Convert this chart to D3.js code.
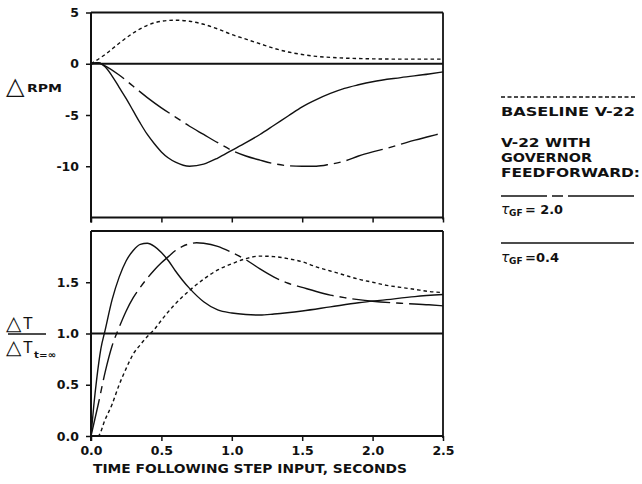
<!DOCTYPE html>
<html>
<head>
<meta charset="utf-8">
<script src="https://cdn.jsdelivr.net/npm/d3@7"></script>
<style>
  html, body { margin: 0; padding: 0; background: #fff; }
  svg { display: block; }
  text { fill: #111; }
</style>
</head>
<body>
<div id="chart"></div>
<script>
// ---------------- data ----------------
// Top panel: delta RPM
const topBaseT  = [0,0.1,0.2,0.3,0.4,0.5,0.6,0.7,0.8,0.9,1.0,1.1,1.2,1.3,1.4,1.5,1.6,1.7,1.8,2.0,2.2,2.5];
const topBaseV  = [0,0.9,2.0,3.0,3.75,4.15,4.25,4.15,3.85,3.4,2.85,2.4,1.95,1.5,1.15,0.9,0.72,0.62,0.55,0.48,0.45,0.45];
const topTau20T = [0,0.05,0.1,0.2,0.3,0.4,0.5,0.6,0.7,0.8,0.9,1.0,1.1,1.2,1.3,1.4,1.5,1.6,1.7,1.8,1.9,2.0,2.1,2.2,2.3,2.4,2.5];
const topTau20V = [0,0.1,-0.2,-1.1,-2.2,-3.3,-4.3,-5.2,-6.1,-6.9,-7.7,-8.45,-9.0,-9.4,-9.75,-9.95,-10.0,-10.0,-9.8,-9.5,-9.0,-8.6,-8.25,-7.85,-7.45,-7.1,-6.75];
const topTau04T = [0,0.05,0.1,0.15,0.2,0.25,0.3,0.35,0.4,0.45,0.5,0.55,0.6,0.7,0.8,0.9,1.0,1.1,1.2,1.3,1.4,1.5,1.6,1.7,1.8,1.9,2.0,2.2,2.4,2.5];
const topTau04V = [0,0.1,-0.3,-1.2,-2.3,-3.4,-4.6,-5.8,-6.9,-7.8,-8.6,-9.2,-9.6,-10.0,-9.8,-9.2,-8.45,-7.7,-6.9,-6.0,-5.1,-4.2,-3.5,-2.9,-2.4,-2.05,-1.75,-1.35,-1.0,-0.8];

// Bottom panel: normalized thrust
const botBaseT  = [0,0.05,0.1,0.15,0.2,0.25,0.3,0.35,0.4,0.45,0.5,0.6,0.7,0.8,0.9,1.0,1.1,1.2,1.3,1.4,1.5,1.6,1.7,1.8,1.9,2.0,2.1,2.2,2.3,2.4,2.5];
const botBaseV  = [0,0,0.16,0.31,0.5,0.66,0.8,0.89,0.97,1.04,1.13,1.29,1.42,1.53,1.62,1.68,1.73,1.755,1.75,1.73,1.70,1.65,1.61,1.57,1.53,1.50,1.47,1.45,1.43,1.41,1.40];
const botTau20T = [0,0.05,0.1,0.15,0.2,0.25,0.3,0.35,0.4,0.45,0.5,0.55,0.6,0.65,0.7,0.75,0.8,0.9,1.0,1.1,1.2,1.3,1.4,1.5,1.6,1.7,1.8,1.9,2.0,2.2,2.4,2.5];
const botTau20V = [0,0.3,0.62,0.88,1.06,1.22,1.35,1.45,1.54,1.62,1.69,1.75,1.81,1.85,1.875,1.885,1.88,1.85,1.79,1.72,1.63,1.55,1.49,1.45,1.41,1.375,1.35,1.33,1.315,1.295,1.28,1.27];
const botTau04T = [0,0.02,0.04,0.07,0.1,0.15,0.2,0.25,0.3,0.35,0.4,0.45,0.5,0.55,0.6,0.65,0.7,0.8,0.9,1.0,1.1,1.2,1.3,1.5,1.7,1.9,2.1,2.3,2.5];
const botTau04V = [0,0.3,0.55,0.85,1.03,1.33,1.55,1.71,1.81,1.87,1.88,1.85,1.79,1.71,1.61,1.52,1.44,1.31,1.23,1.2,1.185,1.18,1.19,1.22,1.26,1.3,1.33,1.36,1.38];

// ticks / labels
const xTicks = [0, 0.5, 1.0, 1.5, 2.0, 2.5];
const topYTicks = [5, 0, -5, -10];
const botYTicks = [0, 0.5, 1.0, 1.5];
const xTitle = "TIME FOLLOWING STEP INPUT, SECONDS";
const legendTexts = ["BASELINE V-22", "V-22 WITH", "GOVERNOR", "FEEDFORWARD:"];

// ---------------- drawing ----------------
const W = 642, H = 484;
const svg = d3.select("#chart").append("svg").attr("width", W).attr("height", H);
const FONT = "'DejaVu Sans', sans-serif";

const x = d3.scaleLinear().domain([0, 2.5]).range([91, 443]);
const yTop = d3.scaleLinear().domain([-15, 5]).range([217.5, 12.5]);
const yBot = d3.scaleLinear().domain([0, 2]).range([436, 231]);

const zip = (ts, vs) => ts.map((t, i) => [t, vs[i]]);

function panelFrame(y, yTicks, fmt, showLabels, refVal) {
  const g = svg.append("g");
  const [d0, d1] = y.domain();
  g.append("line").attr("x1", x(0)).attr("x2", x(2.5)).attr("y1", y(d1)).attr("y2", y(d1))
    .attr("stroke", "#111").attr("stroke-width", 1.8);
  g.append("line").attr("x1", x(2.5)).attr("x2", x(2.5)).attr("y1", y(d1)).attr("y2", y(d0) + 2)
    .attr("stroke", "#111").attr("stroke-width", 1.8);
  g.append("line").attr("x1", x(0)).attr("x2", x(2.5)).attr("y1", y(refVal)).attr("y2", y(refVal))
    .attr("stroke", "#111").attr("stroke-width", 1.8);
  const ya = g.append("g").attr("transform", `translate(${x(0)},0)`)
    .call(d3.axisLeft(y).tickValues(yTicks).tickSize(5).tickPadding(7).tickFormat(fmt));
  ya.select(".domain").attr("stroke", "#111").attr("stroke-width", 2)
    .attr("d", `M0,${y(d1)}V${y(d0) + 5}`);
  ya.selectAll(".tick line").attr("stroke", "#111").attr("stroke-width", 1.5);
  ya.selectAll(".tick text").attr("font-family", FONT).attr("font-weight", "bold")
    .attr("font-size", 12.5).attr("fill", "#111");
  const xa = g.append("g").attr("transform", `translate(0,${y(d0)})`)
    .call(d3.axisBottom(x).tickValues(xTicks).tickSize(5).tickPadding(5)
      .tickFormat(showLabels ? d3.format(".1f") : ""));
  xa.select(".domain").attr("stroke", "#111").attr("stroke-width", 2)
    .attr("d", `M${x(0)},0H${x(2.5)}`);
  xa.selectAll(".tick line").attr("stroke", "#111").attr("stroke-width", 1.5);
  xa.selectAll(".tick text").attr("font-family", FONT).attr("font-weight", "bold")
    .attr("font-size", 12.5).attr("fill", "#111");
  return g;
}

panelFrame(yTop, topYTicks, d => d < 0 ? "-" + Math.abs(d) : String(d), false, 0);
panelFrame(yBot, botYTicks, d3.format(".1f"), true, 1);

const styles = {
  base:  { dash: "3.5,3", w: 1.4 },
  tau20: { dash: "38,6,7,6", w: 1.4 },
  tau04: { dash: null, w: 1.4 }
};

function drawCurve(y, data, st) {
  const line = d3.line().x(d => x(d[0])).y(d => y(d[1])).curve(d3.curveMonotoneX);
  const p = svg.append("path").datum(data).attr("d", line)
    .attr("fill", "none").attr("stroke", "#111").attr("stroke-width", st.w);
  if (st.dash) p.attr("stroke-dasharray", st.dash);
}

drawCurve(yTop, zip(topBaseT, topBaseV), styles.base);
drawCurve(yTop, zip(topTau20T, topTau20V), styles.tau20);
drawCurve(yTop, zip(topTau04T, topTau04V), styles.tau04);
drawCurve(yBot, zip(botBaseT, botBaseV), styles.base);
drawCurve(yBot, zip(botTau20T, botTau20V), styles.tau20);
drawCurve(yBot, zip(botTau04T, botTau04V), styles.tau04);

// X title
svg.append("text").attr("x", 250).attr("y", 473).attr("text-anchor", "middle")
  .attr("font-family", FONT).attr("font-weight", "bold").attr("font-size", 11.5)
  .attr("textLength", 314).attr("lengthAdjust", "spacingAndGlyphs")
  .text(xTitle);

// Y label top: ΔRPM
svg.append("text").attr("x", 6).attr("y", 94).attr("font-family", FONT)
  .attr("font-size", 24).text("△");
svg.append("text").attr("x", 27).attr("y", 92).attr("font-family", FONT)
  .attr("font-size", 10.5).attr("font-weight", "bold")
  .attr("textLength", 35).attr("lengthAdjust", "spacingAndGlyphs").text("RPM");

// Y label bottom: fraction  ΔT / ΔT(t=∞)
function deltaT(yb) {
  svg.append("text").attr("x", 6).attr("y", yb).attr("font-family", FONT)
    .attr("font-size", 20).text("△");
  svg.append("text").attr("x", 23).attr("y", yb - 1).attr("font-family", "'Liberation Sans', sans-serif")
    .attr("font-size", 16).text("T");
}
deltaT(329.5);
svg.append("line").attr("x1", 8).attr("x2", 46).attr("y1", 334).attr("y2", 334)
  .attr("stroke", "#111").attr("stroke-width", 1.6);
deltaT(354);
svg.append("text").attr("x", 34).attr("y", 358).attr("font-family", FONT)
  .attr("font-size", 9).attr("font-weight", "bold")
  .attr("textLength", 22).attr("lengthAdjust", "spacingAndGlyphs").text("t=∞");

// Legend
const LX = 501, LX2 = 636;
svg.append("line").attr("x1", LX).attr("x2", LX2).attr("y1", 97).attr("y2", 97)
  .attr("stroke", "#111").attr("stroke-width", 1.4).attr("stroke-dasharray", "4,2.5");
const legY = [115.5, 146.5, 161.5, 177];
const legW = [134, 90, 91, 139];
legendTexts.forEach((t, i) => {
  svg.append("text").attr("x", LX).attr("y", legY[i]).attr("font-family", FONT)
    .attr("font-weight", "bold").attr("font-size", 12.5)
    .attr("textLength", legW[i]).attr("lengthAdjust", "spacingAndGlyphs").text(t);
});
svg.append("line").attr("x1", LX).attr("x2", LX2 - 2).attr("y1", 196).attr("y2", 196)
  .attr("stroke", "#111").attr("stroke-width", 1.4).attr("stroke-dasharray", "46,5,11,5,200");
svg.append("line").attr("x1", LX).attr("x2", LX2 - 2).attr("y1", 243).attr("y2", 243)
  .attr("stroke", "#111").attr("stroke-width", 1.6);

function tauLabel(yb, rest, restW) {
  svg.append("text").attr("x", LX).attr("y", yb).attr("font-family", FONT)
    .attr("font-size", 14).attr("font-style", "italic").text("τ");
  svg.append("text").attr("x", LX + 8).attr("y", yb + 2).attr("font-family", FONT)
    .attr("font-size", 9).attr("font-weight", "bold").text("GF");
  svg.append("text").attr("x", LX + 24).attr("y", yb).attr("font-family", FONT)
    .attr("font-size", 12.5).attr("font-weight", "bold")
    .attr("textLength", restW).attr("lengthAdjust", "spacingAndGlyphs").text(rest);
}
tauLabel(214, "= 2.0", 38);
tauLabel(262, "=0.4", 34);
</script>
</body>
</html>
